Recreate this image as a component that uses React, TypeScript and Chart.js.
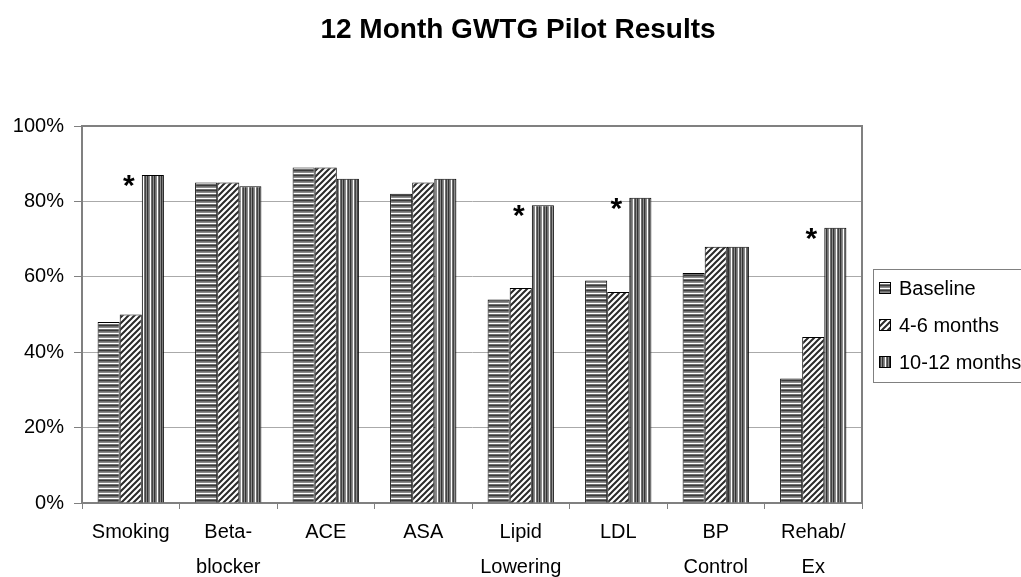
import React, { useEffect, useRef } from 'react';
import { Chart, registerables } from 'chart.js';

Chart.register(...registerables);

const chartTitle = '12 Month GWTG Pilot Results';
const categories: string[][] = [
  ['Smoking'],
  ['Beta-', 'blocker'],
  ['ACE'],
  ['ASA'],
  ['Lipid', 'Lowering'],
  ['LDL'],
  ['BP', 'Control'],
  ['Rehab/', 'Ex'],
];
const seriesNames = ['Baseline', '4-6 months', '10-12 months'];
const baseline = [48, 85, 89, 82, 54, 59, 61, 33];
const months4to6 = [50, 85, 89, 85, 57, 56, 68, 44];
const months10to12 = [87, 84, 86, 86, 79, 81, 68, 73];
const significant = [true, false, false, false, true, true, false, true];
const yMin = 0;
const yMax = 100;
const yStep = 20;

const FONT = "'Liberation Sans', Arial, sans-serif";

function makePattern(kind: 'h' | 'd' | 'v'): CanvasPattern | string {
  const c = document.createElement('canvas');
  const ctx = c.getContext('2d');
  if (!ctx) return '#888';
  if (kind === 'h') {
    const rows = ['#3a3a3a', '#6e6e6e', '#8c8c8c', '#ffffff', '#6e6e6e'];
    c.width = 4;
    c.height = rows.length;
    rows.forEach((col, i) => {
      ctx.fillStyle = col;
      ctx.fillRect(0, i, 4, 1);
    });
  } else if (kind === 'v') {
    const cols = ['#333333', '#707070', '#8c8c8c', '#ffffff', '#707070', '#444444', '#8c8c8c'];
    c.width = cols.length;
    c.height = 4;
    cols.forEach((col, i) => {
      ctx.fillStyle = col;
      ctx.fillRect(i, 0, 1, 4);
    });
  } else {
    c.width = 6;
    c.height = 6;
    ctx.fillStyle = '#ffffff';
    ctx.fillRect(0, 0, 6, 6);
    ctx.strokeStyle = '#2a2a2a';
    ctx.lineWidth = 2;
    ctx.beginPath();
    for (let k = -1; k <= 1; k++) {
      ctx.moveTo(k * 6 - 1, 7);
      ctx.lineTo(k * 6 + 7, -1);
    }
    ctx.stroke();
  }
  const p = ctx.createPattern(c, 'repeat');
  return p || '#888';
}

export default function App() {
  const ref = useRef<HTMLCanvasElement | null>(null);

  useEffect(() => {
    if (!ref.current) return;
    const patterns = [makePattern('h'), makePattern('d'), makePattern('v')];
    const seriesData = [baseline, months4to6, months10to12];

    const decorPlugin = {
      id: 'decor',
      beforeDatasetsDraw(chart: any) {
        const { ctx, chartArea } = chart;
        ctx.save();
        ctx.strokeStyle = '#808080';
        ctx.lineWidth = 2;
        ctx.beginPath();
        ctx.moveTo(chartArea.left, chartArea.top);
        ctx.lineTo(chartArea.right, chartArea.top);
        ctx.lineTo(chartArea.right, chartArea.bottom);
        ctx.stroke();
        ctx.restore();
      },
      afterDatasetsDraw(chart: any) {
        const { ctx } = chart;
        const yScale = chart.scales.y;
        const meta = chart.getDatasetMeta(1);
        ctx.save();
        ctx.fillStyle = '#000';
        ctx.font = `bold 30px ${FONT}`;
        ctx.textAlign = 'center';
        ctx.textBaseline = 'alphabetic';
        significant.forEach((s, i) => {
          if (!s) return;
          const x = meta.data[i].x - 2;
          const yc = yScale.getPixelForValue(months10to12[i]) + 3;
          ctx.fillText('*', x, yc + 17);
        });
        ctx.restore();
      },
      afterDraw(chart: any) {
        const { ctx, chartArea } = chart;
        ctx.save();
        // title
        ctx.fillStyle = '#000';
        ctx.font = `bold 28px ${FONT}`;
        ctx.textAlign = 'center';
        ctx.textBaseline = 'alphabetic';
        ctx.fillText(chartTitle, 518, 38);
        // legend
        const bx = chartArea.right + 11;
        const by = chartArea.top + 143;
        ctx.strokeStyle = '#808080';
        ctx.lineWidth = 1;
        ctx.strokeRect(bx + 0.5, by + 0.5, 200, 113);
        ctx.font = `20px ${FONT}`;
        ctx.textAlign = 'left';
        ctx.textBaseline = 'middle';
        seriesNames.forEach((name, i) => {
          const cy = by + 19 + i * 37;
          ctx.fillStyle = patterns[i] as any;
          ctx.fillRect(bx + 6, cy - 6, 12, 12);
          ctx.strokeStyle = '#000';
          ctx.strokeRect(bx + 6.5, cy - 5.5, 11, 11);
          ctx.fillStyle = '#000';
          ctx.fillText(name, bx + 26, cy + 1);
        });
        ctx.restore();
      },
    };

    const chart = new Chart(ref.current, {
      type: 'bar',
      data: {
        labels: categories,
        datasets: seriesNames.map((name, i) => ({
          label: name,
          data: seriesData[i],
          backgroundColor: patterns[i] as any,
          borderColor: '#000000',
          borderWidth: 1,
          categoryPercentage: 0.68,
          barPercentage: 1.0,
        })),
      },
      options: {
        animation: false,
        responsive: true,
        maintainAspectRatio: false,
        layout: { padding: { left: 0, top: 126, right: 159, bottom: 0 } },
        plugins: {
          legend: { display: false },
          title: { display: false },
          tooltip: { enabled: false },
        },
        scales: {
          x: {
            afterFit(scale: any) {
              scale.height = 74;
            },
            grid: {
              display: true,
              drawOnChartArea: false,
              drawTicks: true,
              tickLength: 6,
              color: '#808080',
              offset: true,
            },
            border: { display: true, color: '#808080', width: 2 },
            ticks: {
              color: '#000',
              padding: 6,
              maxRotation: 0,
              autoSkip: false,
              font: { family: FONT, size: 20, lineHeight: 1.75 },
            },
          },
          y: {
            min: yMin,
            max: yMax,
            afterFit(scale: any) {
              scale.width = 82;
            },
            grid: {
              color: '#aaaaaa',
              lineWidth: 1,
              tickLength: 8,
              tickColor: '#808080',
            },
            border: { display: true, color: '#808080', width: 2 },
            ticks: {
              stepSize: yStep,
              color: '#000',
              padding: 10,
              font: { family: FONT, size: 20 },
              callback: (v: any) => `${v}%`,
            },
          },
        },
      },
      plugins: [decorPlugin],
    });
    return () => chart.destroy();
  }, []);

  return (
    <div style={{ position: 'absolute', left: 0, top: 0, width: 1021, height: 577, background: '#fff' }}>
      <canvas ref={ref} />
    </div>
  );
}
